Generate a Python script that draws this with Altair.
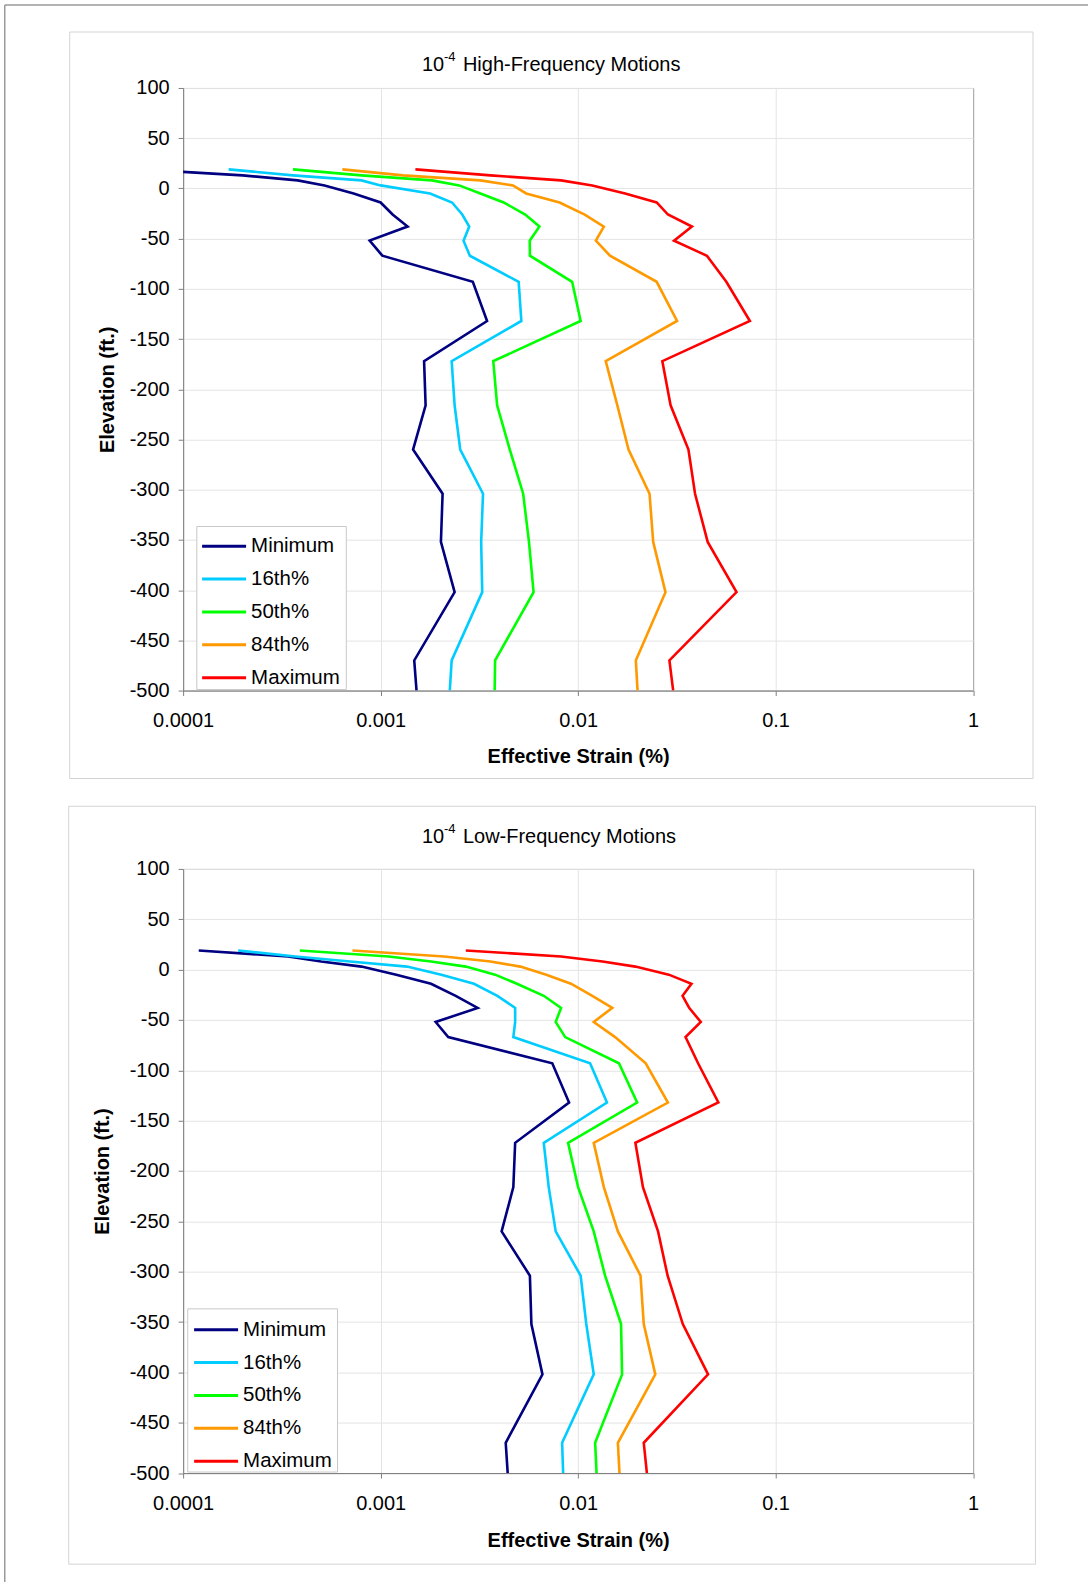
import altair as alt
import pandas as pd

# Depth profile (elevation, ft) shared by every strain series
elevation = [19, 13, 8, 3, -5, -14, -26, -38, -52, -67, -93, -132, -172,
             -216, -260, -304, -352, -402, -470, -500]

series_names = ["Minimum", "16th%", "50th%", "84th%", "Maximum"]
series_colors = ["#000080", "#00CCFF", "#00FF00", "#FF9900", "#FF0000"]

# Effective strain (%) -- high-frequency motions
hf_minimum = [0.00006, 0.0002, 0.00038, 0.00052, 0.00073, 0.001, 0.00115, 0.00137, 0.00088, 0.00102,
              0.00293, 0.00346, 0.00166, 0.00169, 0.00146, 0.00206, 0.00202, 0.00237, 0.00148, 0.00152]
hf_p16 = [0.00017, 0.00036, 0.0008, 0.001, 0.00178, 0.0023, 0.00259, 0.00281, 0.00263, 0.00283,
          0.005, 0.00516, 0.00229, 0.00237, 0.00253, 0.0033, 0.00323, 0.00327, 0.00229, 0.00224]
hf_p50 = [0.00036, 0.0008, 0.00182, 0.0025, 0.0032, 0.0042, 0.0054, 0.00637, 0.00569, 0.0057,
          0.00933, 0.0103, 0.00372, 0.00389, 0.00451, 0.00527, 0.00564, 0.00595, 0.0038, 0.00378]
hf_p84 = [0.00064, 0.0013, 0.0032, 0.00468, 0.00546, 0.00806, 0.0108, 0.0135, 0.0123, 0.0145,
          0.025, 0.0317, 0.0138, 0.0158, 0.018, 0.023, 0.024, 0.0277, 0.0196, 0.02]
hf_maximum = [0.0015, 0.0036, 0.0082, 0.0118, 0.0173, 0.025, 0.0285, 0.0377, 0.0306, 0.0449,
              0.0563, 0.0741, 0.0267, 0.0294, 0.0362, 0.0391, 0.0453, 0.0634, 0.029, 0.0303]

# Effective strain (%) -- low-frequency motions
lf_minimum = [0.00012, 0.00034, 0.0005, 0.0008, 0.0012, 0.0018, 0.0024, 0.0031, 0.0019, 0.0022,
              0.0074, 0.009, 0.0048, 0.0047, 0.0041, 0.0057, 0.0058, 0.0066, 0.0043, 0.0044]
lf_p16 = [0.00019, 0.00037, 0.0007, 0.00136, 0.00203, 0.00297, 0.0039, 0.0048, 0.0048, 0.0047,
          0.0115, 0.014, 0.0067, 0.0071, 0.0077, 0.0103, 0.011, 0.012, 0.0083, 0.0084]
lf_p50 = [0.00039, 0.0011, 0.0018, 0.0027, 0.0038, 0.0049, 0.0067, 0.0082, 0.0077, 0.0086,
          0.0161, 0.0199, 0.0089, 0.01, 0.012, 0.0137, 0.0165, 0.0167, 0.0122, 0.0124]
lf_p84 = [0.00072, 0.0021, 0.0036, 0.0051, 0.0069, 0.0092, 0.0118, 0.0149, 0.012, 0.0154,
          0.022, 0.0285, 0.012, 0.0135, 0.0159, 0.0207, 0.0215, 0.0246, 0.0159, 0.0162]
lf_maximum = [0.0027, 0.0082, 0.0133, 0.0195, 0.0288, 0.0375, 0.0338, 0.0365, 0.0418, 0.035,
              0.0405, 0.0513, 0.0195, 0.0213, 0.0254, 0.0284, 0.0339, 0.0455, 0.0215, 0.0223]

x_ticks = [0.0001, 0.001, 0.01, 0.1, 1]
y_ticks = list(range(-500, 101, 50))

FONT = "Liberation Sans"
PLOT_W = 790.5
TOP_H = 603
GAP = 178.5
one = pd.DataFrame({"k": [0]})


def tidy(series_values):
    rows = []
    for name, vals in zip(series_names, series_values):
        for i, (e, v) in enumerate(zip(elevation, vals)):
            rows.append({"series": name, "elevation": e, "strain": v, "seq": i})
    return pd.DataFrame(rows)


def boxed(bounds, fill, stroke):
    return alt.Chart(one).mark_rect(
        filled=fill is not None, fill=fill if fill else "white",
        fillOpacity=1 if fill else 0, stroke=stroke, strokeWidth=1,
    ).encode(x=alt.value(bounds[0]), x2=alt.value(bounds[2]),
             y=alt.value(bounds[1]), y2=alt.value(bounds[3]))


def panel(label, series_values, height, title_y, box, legend_box, legend_xy,
          frame, ytitle_pad, xtitle_pad):
    df = tidy(series_values)
    lines = alt.Chart(df).mark_line(strokeWidth=2.6, clip=True).encode(
        x=alt.X("strain:Q",
                scale=alt.Scale(type="log", domain=[0.0001, 1]),
                axis=alt.Axis(values=x_ticks, format=".4~f", title="Effective Strain (%)",
                              labelFlush=False, labelOverlap=False, labelPadding=15,
                              titlePadding=xtitle_pad)),
        y=alt.Y("elevation:Q",
                scale=alt.Scale(domain=[-500, 100], nice=False, zero=False),
                axis=alt.Axis(values=y_ticks, labelExpr="'' + datum.value",
                              title="Elevation (ft.)", labelPadding=9,
                              titlePadding=ytitle_pad)),
        color=alt.Color("series:N",
                        scale=alt.Scale(domain=series_names, range=series_colors),
                        legend=alt.Legend(orient="none", legendX=legend_xy[0],
                                          legendY=legend_xy[1], title=None,
                                          symbolType="stroke", symbolStrokeWidth=3,
                                          symbolSize=1936, clipHeight=20,
                                          labelFontSize=20.5, labelFont=FONT,
                                          labelColor="black", padding=6,
                                          labelOffset=3.5, rowPadding=11.9)),
        order="seq:Q",
    )

    layers = [boxed(box, None, "#d4d4d4")]
    for f in frame:
        layers.append(alt.Chart(one).mark_rule(color="#9a9a9a", strokeWidth=1.5).encode(**f))

    layers.append(lines)
    # white legend frame behind the legend entries
    layers.append(boxed(legend_box, "white", "#c8c8c8"))

    # title: 10^-4 <label>
    tx = 239.0
    layers.append(alt.Chart(one).mark_text(text="10", align="left", baseline="middle",
                                           fontSize=20, font=FONT, color="black").encode(
        x=alt.value(tx), y=alt.value(title_y)))
    layers.append(alt.Chart(one).mark_text(text="-4", align="left", baseline="middle",
                                           fontSize=13, font=FONT, color="black").encode(
        x=alt.value(tx + 22), y=alt.value(title_y - 8)))
    layers.append(alt.Chart(one).mark_text(text=label, align="left", baseline="middle",
                                           fontSize=20, font=FONT, color="black").encode(
        x=alt.value(tx + 41), y=alt.value(title_y)))

    return alt.layer(*layers).properties(width=PLOT_W, height=height)


top = panel(
    "High-Frequency Motions",
    [hf_minimum, hf_p16, hf_p50, hf_p84, hf_maximum],
    height=TOP_H, title_y=-23,
    box=(-113.5, -56, 850.5, 691),
    legend_box=(13.7, 438.8, 163.3, 602),
    legend_xy=(11.5, 442.5),
    # outer page frame: top edge and full-height left edge
    frame=[
        dict(x=alt.value(-178.5), x2=alt.value(905.5), y=alt.value(-83)),
        dict(x=alt.value(-178.5), y=alt.value(-83), y2=alt.value(1495)),
    ],
    ytitle_pad=12, xtitle_pad=15.5,
)

bottom = panel(
    "Low-Frequency Motions",
    [lf_minimum, lf_p16, lf_p50, lf_p84, lf_maximum],
    height=604.5, title_y=-32.3,
    box=(-114.5, -62.7, 852.9, 695.7),
    legend_box=(4.6, 440.2, 154.5, 603.5),
    legend_xy=(3.5, 445),
    frame=[],
    ytitle_pad=17, xtitle_pad=17.5,
)

chart = alt.vconcat(top, bottom, spacing=GAP, bounds="flush").resolve_scale(
    x="independent", y="independent", color="independent"
).resolve_legend(color="independent").properties(
    padding={"left": 3.25, "top": 2.5, "right": 0, "bottom": 0}
).configure(
    font=FONT, background="white"
).configure_view(
    stroke="#808080", strokeWidth=1
).configure_axis(
    labelFontSize=20, labelColor="black", labelFont=FONT,
    titleFontSize=20, titleFontWeight="bold", titleColor="black", titleFont=FONT,
    tickSize=5, tickColor="#808080", domainColor="#808080", domainWidth=1,
    gridColor="#e4e4e4", gridWidth=1,
)

chart.save("out.html", embed_options={"renderer": "svg", "actions": False})
